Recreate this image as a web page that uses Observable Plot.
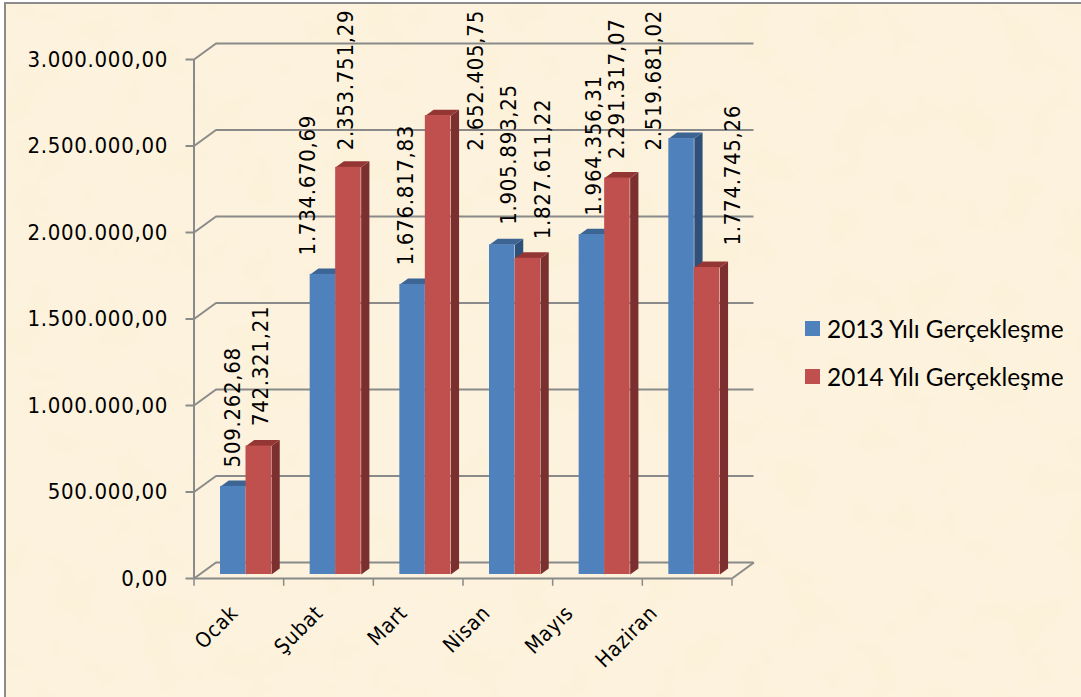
<!DOCTYPE html>
<html lang="tr">
<head>
<meta charset="utf-8">
<script src="https://cdn.jsdelivr.net/npm/d3@7"></script>
<script src="https://cdn.jsdelivr.net/npm/@observablehq/plot@0.6"></script>
<style>
html,body{margin:0;padding:0;background:#fff;}
#page{position:relative;width:1081px;height:697px;overflow:hidden;}
#paper{position:absolute;left:4px;top:2px;right:-4px;bottom:-4px;border-left:2px solid #8b8b8b;border-top:2px solid #8b8b8b;background-color:#fdf2de;
background-image:url("data:image/svg+xml;utf8,<svg xmlns='http://www.w3.org/2000/svg' width='1081' height='697'><filter id='n'><feTurbulence type='fractalNoise' baseFrequency='0.022' numOctaves='3' seed='7'/><feColorMatrix values='0 0 0 0 0.97  0 0 0 0 0.89  0 0 0 0 0.68  1.6 0 0 0 -0.62'/></filter><rect width='1081' height='697' filter='url(%23n)'/></svg>");}
#chart{position:absolute;left:0;top:0;}
#chart svg{background:transparent;display:block;}
#chart svg text{letter-spacing:0.7px;}
#legend{position:absolute;left:805px;top:0;font-family:Lato,sans-serif;font-size:24.4px;color:#000;}
.item{position:absolute;left:0;display:flex;align-items:center;white-space:nowrap;height:24px;}
.swatch{width:15px;height:15px;margin-right:7px;flex:none;}
</style>
</head>
<body>
<div id="page">
<div id="paper"></div>
<div id="chart"></div>
<div id="legend"></div>
</div>
<script>
// Data
const months = ["Ocak", "Şubat", "Mart", "Nisan", "Mayıs", "Haziran"];
const series2013Name = "2013 Yılı Gerçekleşme";
const series2014Name = "2014 Yılı Gerçekleşme";
const values2013 = [509262.68, 1734670.69, 1676817.83, 1905893.25, 1964356.31, 2519681.02];
const values2014 = [742321.21, 2353751.29, 2652405.75, 1827611.22, 2291317.07, 1774745.26];
const yTicks = [0, 500000, 1000000, 1500000, 2000000, 2500000, 3000000];

// Styling and layout (screen pixels)
const blue = {front: "#4f81bd", top: "#3c6594", side: "#2f5078"};
const red = {front: "#c0504d", top: "#943634", side: "#7b2f2e"};
const axisColor = "#8a8a8a";
const valueFont = "'DejaVu Sans Condensed', 'DejaVu Sans', sans-serif";
const pxPerMonth = 89.67;
const pxPerValue = 173 / 1e6;
// Hand placement of the value labels, relative to the bar top
const nudgeX2013 = [0, -15, -7, 6.5, 2, -28];
const nudgeY2013 = [-19, -19, -19, -20, -19, 12];
const nudgeX2014 = [2, -2, 37.5, 15, 0, 26];
const nudgeY2014 = [-20, -17, 35, -19, -19, -22];
// Where each rotated month label ends, in month units
const monthLabelAt = [0.452, 1.40, 2.34, 3.264, 4.19, 5.13];
const monthLabelValue = -179000;

const depthX = 22 / pxPerMonth;      // chart depth, in month units
const depthY = 16 / pxPerValue;      // chart depth, in value units
const barNear = 0.25, barFar = 0.625;
const barStart = 21 / pxPerMonth, barWidth = 25.5 / pxPerMonth;

const fmt = v => v.toLocaleString("de-DE", {minimumFractionDigits: 2, maximumFractionDigits: 2});

const makeBars = (values, slot, nx, ny) => values.map((v, i) => ({
  month: months[i], value: v, i,
  x0: i + barStart + slot * barWidth,
  x1: i + barStart + (slot + 1) * barWidth,
  nx: nx[i], ny: ny[i]
}));
const bars2013 = makeBars(values2013, 0, nudgeX2013, nudgeY2013);
const bars2014 = makeBars(values2014, 1, nudgeX2014, nudgeY2014);

const projX = (x, d) => x + d * depthX;
const projY = (v, d) => v + d * depthY;
const corner = (id, x, v, d) => ({id, x: projX(x, d), y: projY(v, d)});
const topFace = bars => bars.flatMap(b => [
  corner(b.i, b.x0, b.value, barNear), corner(b.i, b.x1, b.value, barNear),
  corner(b.i, b.x1, b.value, barFar), corner(b.i, b.x0, b.value, barFar)]);
const sideFace = bars => bars.flatMap(b => [
  corner(b.i, b.x1, 0, barNear), corner(b.i, b.x1, 0, barFar),
  corner(b.i, b.x1, b.value, barFar), corner(b.i, b.x1, b.value, barNear)]);

const barMarks = (bars, c) => [
  Plot.line(sideFace(bars), {x: "x", y: "y", z: "id", fill: c.side, stroke: "none", curve: "linear"}),
  Plot.line(topFace(bars), {x: "x", y: "y", z: "id", fill: c.top, stroke: "none", curve: "linear"}),
  Plot.rect(bars, {
    x1: b => projX(b.x0, barNear), x2: b => projX(b.x1, barNear),
    y1: projY(0, barNear), y2: b => projY(b.value, barNear), fill: c.front
  })
];
const valueLabels = bars => Plot.text(bars, {
  x: b => projX((b.x0 + b.x1) / 2, barNear) + b.nx / pxPerMonth,
  y: b => projY(b.value, barNear) - b.ny / pxPerValue,
  text: b => fmt(b.value),
  rotate: -90, textAnchor: "start", lineAnchor: "middle",
  fontSize: 22, fontFamily: valueFont, fill: "#000"
});

const chart = Plot.plot({
  width: 1081, height: 697,
  marginLeft: 193.5, marginRight: 349.5, marginTop: 59, marginBottom: 119,
  style: {background: "transparent", fontFamily: valueFont, overflow: "visible"},
  x: {type: "linear", domain: [0, 6], axis: null},
  y: {type: "linear", domain: [0, 3000000], axis: null},
  marks: [
    // back wall grid and depth connectors
    Plot.ruleY(yTicks, {x1: depthX, x2: 6 + depthX, y: d => d + depthY, stroke: axisColor, strokeWidth: 2}),
    Plot.link(yTicks, {x1: 0, y1: d => d, x2: depthX, y2: d => d + depthY, stroke: axisColor, strokeWidth: 2}),
    Plot.link([6], {x1: d => d, y1: 0, x2: d => d + depthX, y2: depthY, stroke: axisColor, strokeWidth: 2}),
    // front axes
    Plot.ruleX([0], {y1: 0, y2: 3000000, stroke: axisColor, strokeWidth: 2}),
    Plot.ruleY([0], {x1: 0, x2: 6, stroke: axisColor, strokeWidth: 2}),
    Plot.axisY({
      ticks: yTicks, tickFormat: fmt, tickSize: 8, tickPadding: 18,
      stroke: axisColor, strokeWidth: 2, fontSize: 22, label: null, fill: "#000", strokeOpacity: 1
    }),
    Plot.ruleX(d3.range(0, 7), {y1: 0, y2: -45000, stroke: axisColor, strokeWidth: 1.5}),
    ...barMarks(bars2013, blue),
    ...barMarks(bars2014, red),
    valueLabels(bars2013),
    valueLabels(bars2014),
    Plot.text(months, {
      x: (d, i) => monthLabelAt[i], y: monthLabelValue, text: d => d,
      rotate: -45, textAnchor: "end", lineAnchor: "middle",
      fontSize: 21, fontFamily: valueFont, fill: "#000"
    })
  ]
});
document.getElementById("chart").append(chart);

const legend = document.getElementById("legend");
[[series2013Name, blue.front, 316], [series2014Name, red.front, 364]].forEach(([name, color, top]) => {
  const item = document.createElement("div");
  item.className = "item";
  item.style.top = top + "px";
  const sw = document.createElement("span");
  sw.className = "swatch";
  sw.style.background = color;
  const label = document.createElement("span");
  label.textContent = name;
  item.append(sw, label);
  legend.append(item);
});
</script>
</body>
</html>
